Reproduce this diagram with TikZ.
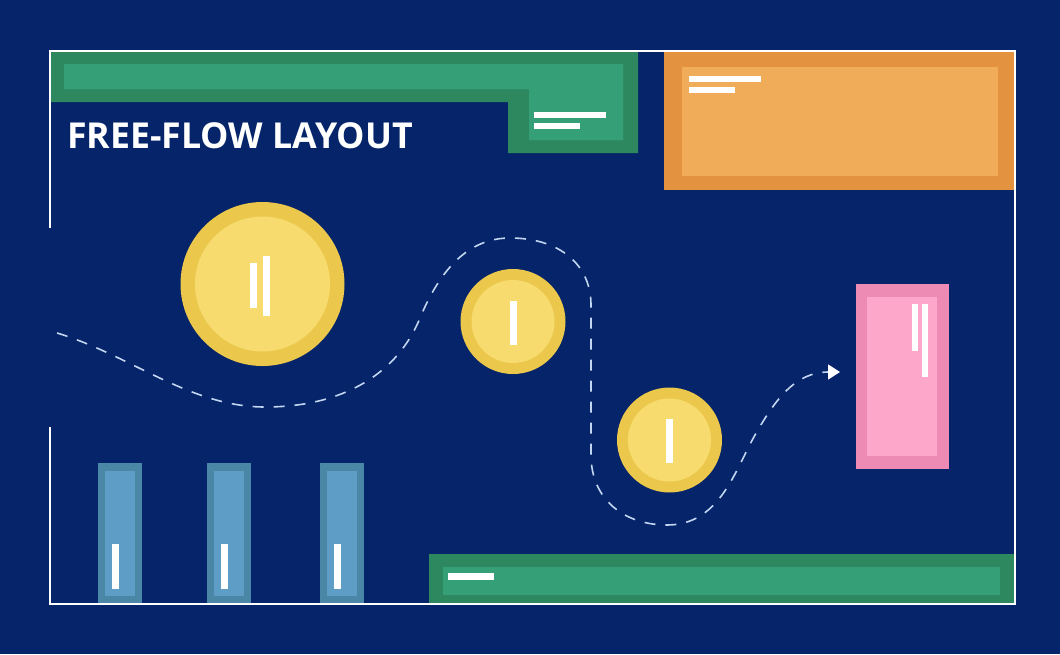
\documentclass[tikz,border=0pt]{standalone}
\usepackage{fontspec}
\setmainfont{Open Sans}
\usetikzlibrary{arrows.meta}
\definecolor{navy}{HTML}{05246A}
\definecolor{greendark}{HTML}{2D8860}
\definecolor{greenlight}{HTML}{35A077}
\definecolor{orangedark}{HTML}{E3933F}
\definecolor{orangelight}{HTML}{F0AC58}
\definecolor{pinkdark}{HTML}{EE8BB4}
\definecolor{pinklight}{HTML}{FDA7CA}
\definecolor{coindark}{HTML}{EBC84B}
\definecolor{coinlight}{HTML}{F7DB6E}
\definecolor{shelfdark}{HTML}{4A87A7}
\definecolor{shelflight}{HTML}{5E9DC6}
\definecolor{dashblue}{HTML}{C3D6F0}
\begin{document}
\begin{tikzpicture}[x=1pt,y=-1pt,
  tag/.style={fill=white},
  route/.style={draw=dashblue,line width=1.6pt,dash pattern=on 11pt off 10pt}]
\useasboundingbox (0,0) rectangle (1060,654);
\fill[navy] (0,0) rectangle (1060,654);

% top counter
\fill[greendark] (50,51) -| (638,153) -| (508,102) -| cycle;
\fill[greenlight] (64,64) -| (623,140) -| (529,89) -| cycle;
\fill[tag] (534,112) rectangle (606,118);
\fill[tag] (534,123) rectangle (580,129);

% orange block
\fill[orangedark] (664,51) rectangle (1014,190);
\fill[orangelight] (682,67) rectangle (998,176);
\fill[tag] (689,76) rectangle (761,82);
\fill[tag] (689,87) rectangle (735,93);

% pink block
\fill[pinkdark] (856,284) rectangle (949,469);
\fill[pinklight] (867,297) rectangle (937,456);
\fill[tag] (912,304) rectangle (918,351);
\fill[tag] (922,304) rectangle (928,377);

% bottom counter
\fill[greendark] (429,554) rectangle (1014,604);
\fill[greenlight] (443,567) rectangle (1000,595);
\fill[tag] (448,573) rectangle (494,580);

% shelves
\foreach \x in {98,207,320}{
  \fill[shelfdark] (\x,463) rectangle (\x+44,604);
  \fill[shelflight] (\x+7,471) rectangle (\x+37,596);
  \fill[tag] (\x+14,544) rectangle (\x+21,589);
}

% round tables
\fill[coindark] (262.5,284) circle[radius=82pt];
\fill[coinlight] (262.5,284) circle[radius=67.5pt];
\fill[tag] (250,263) rectangle (257,308);
\fill[tag] (263,256) rectangle (270,316);
\foreach \cx/\cy in {513/321.5,669.5/440}{
  \fill[coindark] (\cx,\cy) circle[radius=52.5pt];
  \fill[coinlight] (\cx,\cy) circle[radius=41.5pt];
  \fill[tag] (\cx-3.5,\cy-21) rectangle (\cx+3.5,\cy+23);
}

\node[anchor=base west,inner sep=0pt,text=white,
  font=\bfseries\fontsize{35.7}{40}\selectfont] (title) at (67,148) {FREE-FLOW LAYOUT};

% walking route
\coordinate (entry) at (57,333);
\coordinate (goal) at (840,372);
\draw[route,-{Triangle[length=12pt,width=15pt,color=white]}] (entry)
.. controls (130,355) and (190,407) .. (265,407)
.. controls (345,407) and (398,372) .. (420,318)
.. controls (440,270) and (468,238) .. (510,238)
.. controls (560,238) and (591,265) .. (591,305)
-- (591,455)
.. controls (591,500) and (625,525) .. (667,525)
.. controls (720,525) and (735,470) .. (755,435)
.. controls (775,400) and (795,372) .. (goal);

% frame
\draw[white,line width=1.8pt] (50,228) -- (50,51) -- (1015,51) -- (1015,604) -- (50,604) -- (50,427);
\end{tikzpicture}
\end{document}
